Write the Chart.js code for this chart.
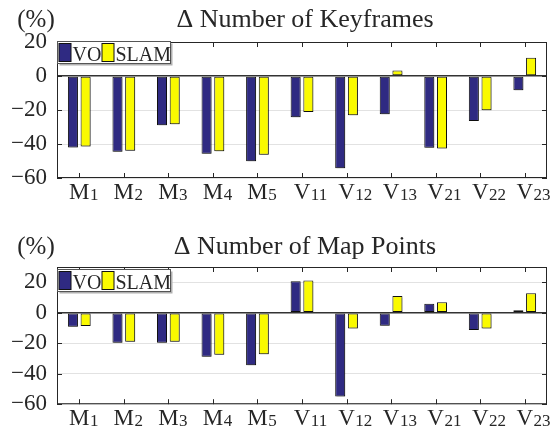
<!DOCTYPE html>
<html>
<head>
<meta charset="utf-8">
<script src="https://cdn.jsdelivr.net/npm/chart.js@4"></script>
<style>
    html, body { margin: 0; padding: 0; background: #fff; }
    #wrap { position: relative; width: 555px; height: 428px; }
    canvas { position: absolute; left: 0; }
</style>
</head>
<body>
<div id="wrap">
    <canvas id="kfChart" width="555" height="214" style="top:0"></canvas>
    <canvas id="mpChart" width="555" height="214" style="top:214px"></canvas>
</div>
<script>
'use strict';

const categories = ['M1', 'M2', 'M3', 'M4', 'M5', 'V11', 'V12', 'V13', 'V21', 'V22', 'V23'];
const seriesNames = ['VO', 'SLAM'];

// Δ Number of Keyframes (%)
const keyframesVO = [-42, -44.5, -29, -45.7, -50.2, -24.3, -54.3, -22.5, -42.2, -26.5, -8.4];
const keyframesSLAM = [-41.4, -43.9, -28.4, -44.3, -46.3, -21.2, -23.1, 3.3, -42.7, -20.2, 10.8];

// Δ Number of Map Points (%)
const mapPointsVO = [-9.2, -19.7, -19.7, -28.8, -34.5, 20.7, -55, -8.5, 5.9, -11.4, 1.7];
const mapPointsSLAM = [-8.7, -19, -19, -27.5, -27.3, 21.2, -10.3, 10.9, 6.8, -10.3, 12.7];

const yTicks = [-60, -40, -20, 0, 20];

const COLORS = ['#2f2a82', '#fafa00'];
const TEXT = '#262626';
const SERIF = "'Liberation Serif', 'Times New Roman', serif";

const shadowPlugin = {
    id: 'barShadow',
    beforeDatasetsDraw(chart) {
        const ctx = chart.ctx;
        ctx.save();
        ctx.shadowColor = 'rgba(0, 0, 0, 0.22)';
        ctx.shadowOffsetX = 1.5;
        ctx.shadowOffsetY = 1.5;
        ctx.shadowBlur = 0;
    },
    afterDatasetsDraw(chart) {
        chart.ctx.restore();
    }
};

const framePlugin = {
    id: 'frame',
    afterDraw(chart, args, opts) {
        const { ctx, chartArea: a, scales: { x, y } } = chart;
        ctx.save();

        // box + inward ticks
        ctx.strokeStyle = TEXT;
        ctx.lineWidth = 1;
        ctx.strokeRect(a.left + 0.5, a.top + 0.5, a.width - 1, a.height - 1);
        ctx.beginPath();
        x.ticks.forEach((t, i) => {
            const px = Math.round(x.getPixelForTick(i)) + 0.5;
            ctx.moveTo(px, a.bottom);
            ctx.lineTo(px, a.bottom - 5);
            ctx.moveTo(px, a.top);
            ctx.lineTo(px, a.top + 5);
        });
        y.ticks.forEach((t, i) => {
            const py = Math.round(y.getPixelForTick(i)) + 0.5;
            ctx.moveTo(a.left, py);
            ctx.lineTo(a.left + 5, py);
            ctx.moveTo(a.right, py);
            ctx.lineTo(a.right - 5, py);
        });
        ctx.stroke();

        // category labels with subscripts
        ctx.fillStyle = TEXT;
        ctx.textBaseline = 'alphabetic';
        ctx.textAlign = 'left';
        const baseY = a.bottom + 20.5;
        chart.data.labels.forEach((label, i) => {
            const m = /^([A-Z]+)(\d+)$/.exec(label);
            const px = x.getPixelForTick(i);
            ctx.font = `23px ${SERIF}`;
            const w = ctx.measureText(m[1]).width;
            const left = px - w / 2;
            ctx.fillText(m[1], left, baseY);
            ctx.font = `17px ${SERIF}`;
            ctx.fillText(m[2], left + w + 0.5, baseY + 1);
        });

        // title and unit
        ctx.font = `26px ${SERIF}`;
        ctx.textAlign = 'center';
        ctx.fillText(opts.title, (a.left + a.right) / 2 + 3, a.top - opts.titleGap);
        ctx.font = `25px ${SERIF}`;
        ctx.fillText('(%)', 36, a.top - opts.titleGap);

        // legend box
        const lx = a.left + 0.5;
        const ly = a.top + 0.5 + opts.legendDy;
        const lw = 113;
        const lh = 22;
        ctx.fillStyle = '#b0b0b0';
        ctx.fillRect(lx + 2, ly + 2, lw, lh);
        ctx.fillStyle = '#fff';
        ctx.fillRect(lx, ly, lw, lh);
        ctx.strokeStyle = '#555';
        ctx.strokeRect(lx, ly, lw, lh);

        const items = [
            { sx: lx + 1.5, tx: lx + 15 },
            { sx: lx + 44.5, tx: lx + 58 }
        ];
        ctx.font = `20px ${SERIF}`;
        ctx.textAlign = 'left';
        chart.data.datasets.forEach((ds, i) => {
            const it = items[i];
            ctx.fillStyle = ds.backgroundColor;
            ctx.fillRect(it.sx, ly + 2, 12, 18);
            ctx.strokeStyle = '#111';
            ctx.strokeRect(it.sx, ly + 2, 12, 18);
            ctx.fillStyle = TEXT;
            ctx.fillText(ds.label, it.tx, ly + 19);
        });

        ctx.restore();
    }
};

function makeChart(canvasId, voValues, slamValues, yMax, title, layout) {
    const ctx = document.getElementById(canvasId).getContext('2d');
    return new Chart(ctx, {
        type: 'bar',
        data: {
            labels: categories,
            datasets: [voValues, slamValues].map((values, i) => ({
                label: seriesNames[i],
                data: values,
                backgroundColor: COLORS[i],
                borderColor: '#111',
                borderWidth: 1,
                borderSkipped: false,
                categoryPercentage: 0.57,
                barPercentage: 0.79
            }))
        },
        options: {
            responsive: false,
            animation: false,
            devicePixelRatio: 1,
            layout: {
                padding: { top: layout.top, right: 8, left: 0, bottom: 0 }
            },
            scales: {
                x: {
                    grid: { display: false },
                    border: { display: false },
                    ticks: { display: false },
                    afterFit: (scale) => { scale.height = layout.xHeight; }
                },
                y: {
                    min: -60,
                    max: yMax,
                    afterBuildTicks: (scale) => {
                        scale.ticks = yTicks.map((value) => ({ value }));
                    },
                    afterFit: (scale) => { scale.width = 57; },
                    border: { display: false },
                    grid: {
                        drawTicks: false,
                        color: (c) => (c.tick && c.tick.value === 0 ? '#333' : '#e2e2e2'),
                        lineWidth: (c) => (c.tick && c.tick.value === 0 ? 1.6 : 1)
                    },
                    ticks: {
                        padding: 10,
                        color: TEXT,
                        font: { family: SERIF, size: 23 },
                        callback: (value) => (value < 0 ? '\u2212' + Math.abs(value) : String(value))
                    }
                }
            },
            plugins: {
                legend: { display: false },
                tooltip: { enabled: false },
                frame: { title, titleGap: layout.titleGap, legendDy: layout.legendDy }
            }
        },
        plugins: [shadowPlugin, framePlugin]
    });
}

makeChart('kfChart', keyframesVO, keyframesSLAM, 20, '\u0394 Number of Keyframes',
    { top: 42, xHeight: 36, titleGap: 15, legendDy: -1 });
makeChart('mpChart', mapPointsVO, mapPointsSLAM, 30, '\u0394 Number of Map Points',
    { top: 53, xHeight: 23, titleGap: 13, legendDy: 2 });
</script>
</body>
</html>
